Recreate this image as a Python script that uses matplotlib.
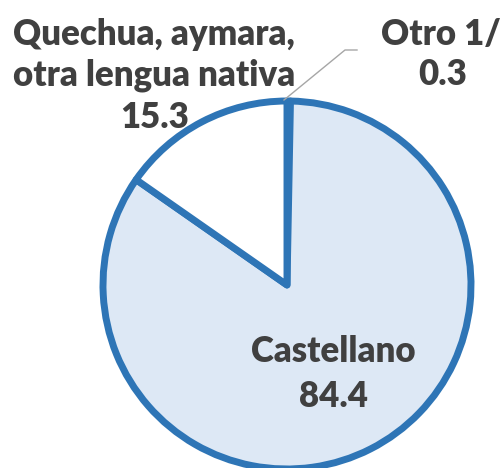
import matplotlib.pyplot as plt

categories = ['Otro 1/', 'Castellano', 'Quechua, aymara,\notra lengua nativa']
values = [0.3, 84.4, 15.3]
colors = ['#2E75B6', '#DDE8F5', '#FFFFFF']

W, H = 504, 468
fig = plt.figure(figsize=(W / 100, H / 100), dpi=100)
ax = fig.add_axes([0, 0, 1, 1])
ax.set_xlim(0, W)
ax.set_ylim(0, H)
ax.set_aspect('equal')
ax.axis('off')

cx, cy, r = 287, H - 285, 184
ax.pie(values, colors=colors, startangle=90, counterclock=False,
       center=(cx, cy), radius=r, frame=True,
       wedgeprops=dict(edgecolor='#2E75B6', linewidth=5, joinstyle='round'))
ax.set_xlim(0, W)
ax.set_ylim(0, H)
ax.axis('off')

txt = dict(ha='center', va='baseline', color='#404040', fontsize=25,
           fontweight='heavy', family='Lato')

# labels: name + value
ax.text(154, H - 45, 'Quechua, aymara,', **txt)
ax.text(154, H - 85, 'otra lengua nativa', **txt)
ax.text(155, H - 128, f'{values[2]:.1f}', **txt)
ax.text(441, H - 45, categories[0], **txt)
ax.text(443, H - 85, f'{values[0]:.1f}', **txt)
ax.text(333, H - 362, categories[1], **txt)
ax.text(333, H - 407, f'{values[1]:.1f}', **txt)

# leader line for the small slice
ax.plot([284, 345, 357], [H - 100, H - 50, H - 50], color='#A6A6A6', lw=1)

fig.savefig('out.png', dpi=100)
